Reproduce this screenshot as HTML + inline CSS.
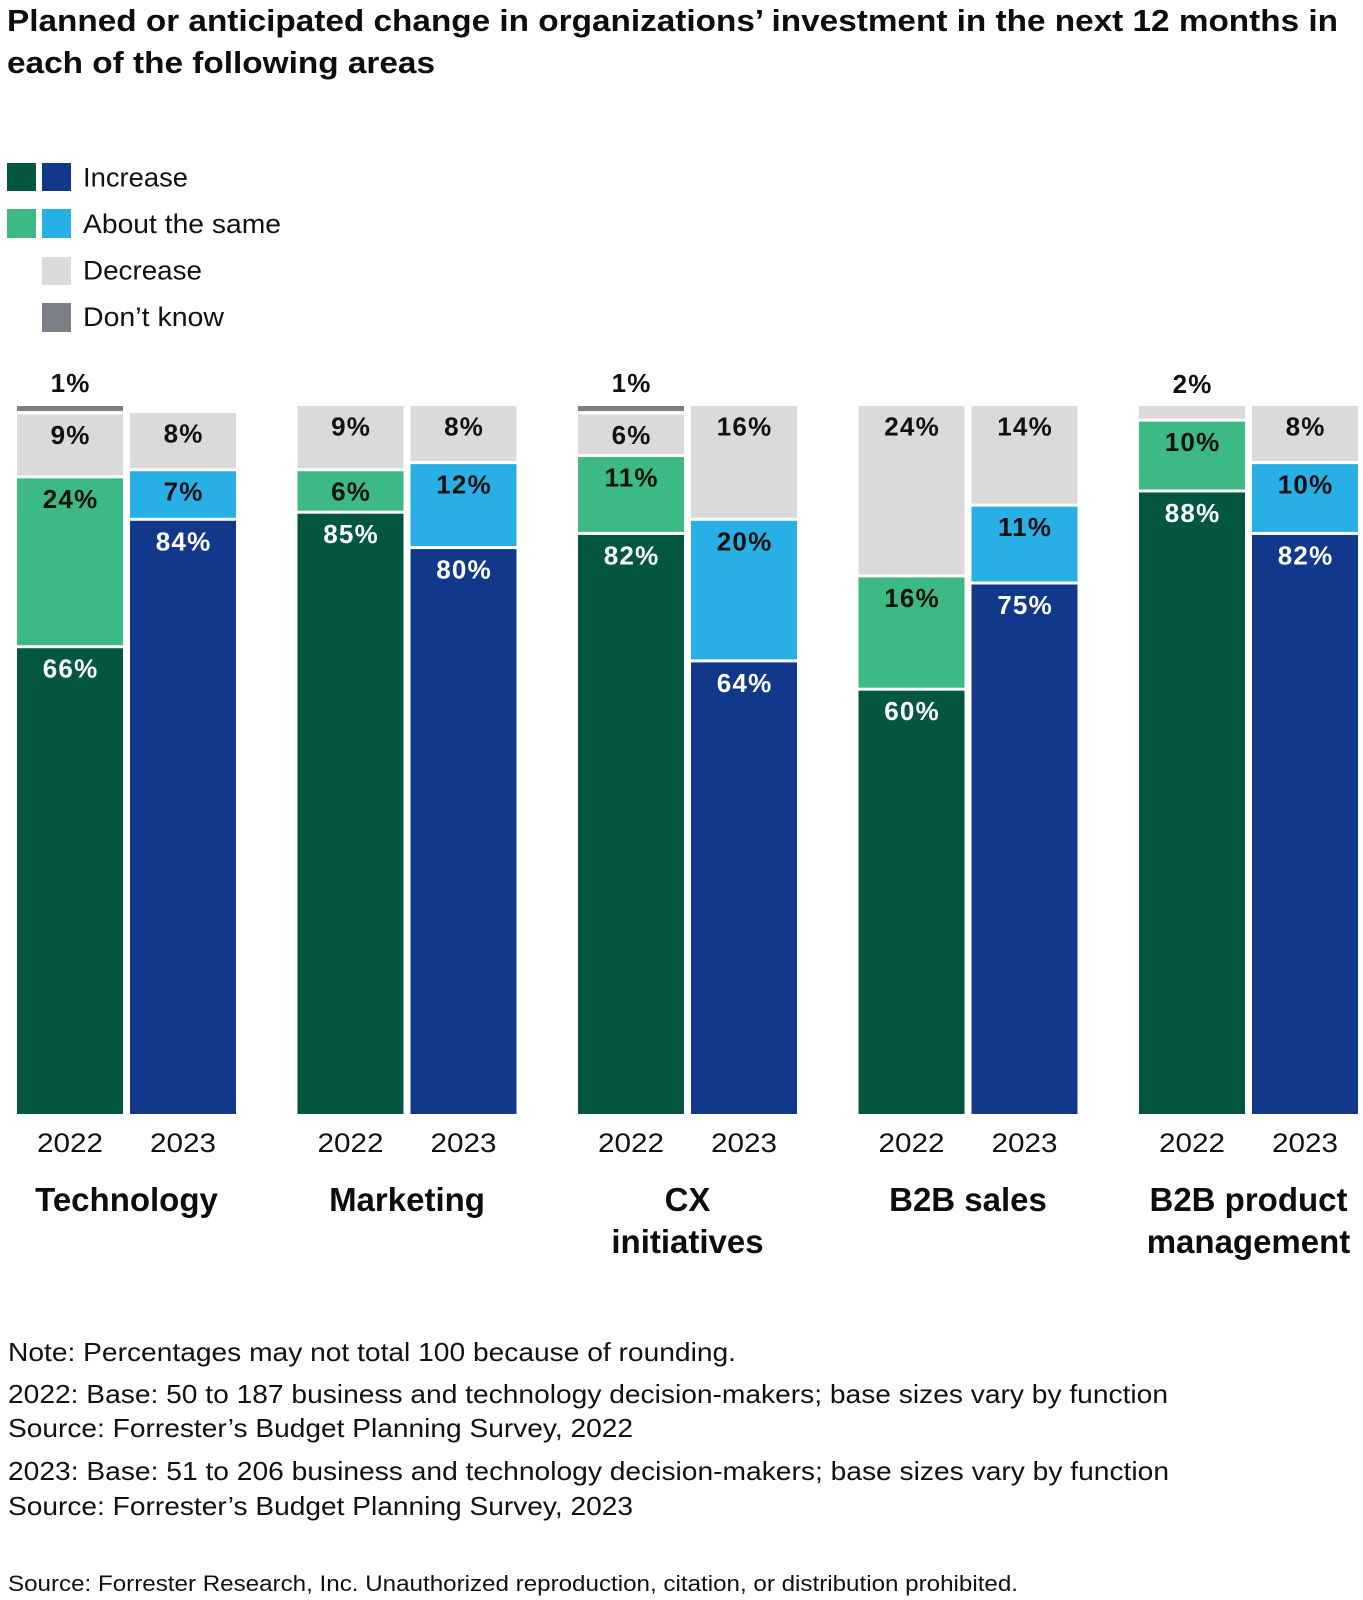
<!DOCTYPE html>
<html>
<head>
<meta charset="utf-8">
<style>
  html, body { margin: 0; padding: 0; background: #ffffff; }
  svg { display: block; }
  .t { font-family: "Liberation Sans", Arial, sans-serif; }
</style>
</head>
<body>
<svg width="1363" height="1600" viewBox="0 0 1363 1600" xmlns="http://www.w3.org/2000/svg">
  <rect x="0" y="0" width="1363" height="1600" fill="#ffffff"/>

  <!-- Title -->
  <g class="t" font-weight="bold" font-size="31" fill="#0d0d0d">
    <text x="7" y="31" textLength="1331" lengthAdjust="spacingAndGlyphs">Planned or anticipated change in organizations’ investment in the next 12 months in</text>
    <text x="7" y="73" textLength="428" lengthAdjust="spacingAndGlyphs">each of the following areas</text>
  </g>

  <!-- Legend -->
  <rect x="7" y="163" width="29" height="28" fill="#035640"/>
  <rect x="42" y="163" width="29" height="28" fill="#11388a"/>
  <rect x="7" y="209" width="29" height="29" fill="#3db984"/>
  <rect x="42" y="209" width="29" height="29" fill="#27afe6"/>
  <rect x="42" y="257" width="29" height="28" fill="#dadada"/>
  <rect x="42" y="303" width="29" height="29" fill="#7b7f86"/>
  <g class="t" font-size="27" fill="#111111">
    <text x="83" y="186.5" textLength="105" lengthAdjust="spacingAndGlyphs">Increase</text>
    <text x="83" y="233" textLength="198" lengthAdjust="spacingAndGlyphs">About the same</text>
    <text x="83" y="279.5" textLength="119" lengthAdjust="spacingAndGlyphs">Decrease</text>
    <text x="83" y="326" textLength="141" lengthAdjust="spacingAndGlyphs">Don’t know</text>
  </g>

  <!-- Bars -->
  <!-- Technology 2022 -->
  <rect x="17" y="648.22" width="106" height="465.78" fill="#035640"/>
  <rect x="17" y="478.3" width="106" height="166.92" fill="#3db984"/>
  <rect x="17" y="414.58" width="106" height="60.72" fill="#dadada"/>
  <rect x="17" y="406" width="106" height="5.08" fill="#7b7f86"/>
  <!-- Technology 2023 -->
  <rect x="130" y="520.78" width="106" height="593.22" fill="#11388a"/>
  <rect x="130" y="471.22" width="106" height="46.56" fill="#27afe6"/>
  <rect x="130" y="413.08" width="106" height="55.14" fill="#dadada"/>

  <!-- Marketing 2022 -->
  <rect x="297.5" y="513.7" width="106" height="600.3" fill="#035640"/>
  <rect x="297.5" y="471.22" width="106" height="39.48" fill="#3db984"/>
  <rect x="297.5" y="406" width="106" height="62.22" fill="#dadada"/>
  <!-- Marketing 2023 -->
  <rect x="410.5" y="549.1" width="106" height="564.9" fill="#11388a"/>
  <rect x="410.5" y="464.14" width="106" height="81.96" fill="#27afe6"/>
  <rect x="410.5" y="406" width="106" height="55.14" fill="#dadada"/>

  <!-- CX 2022 -->
  <rect x="578" y="534.94" width="106" height="579.06" fill="#035640"/>
  <rect x="578" y="457.06" width="106" height="74.88" fill="#3db984"/>
  <rect x="578" y="414.58" width="106" height="39.48" fill="#dadada"/>
  <rect x="578" y="406" width="106" height="5.08" fill="#7b7f86"/>
  <!-- CX 2023 -->
  <rect x="691" y="662.38" width="106" height="451.62" fill="#11388a"/>
  <rect x="691" y="520.78" width="106" height="138.6" fill="#27afe6"/>
  <rect x="691" y="406" width="106" height="111.78" fill="#dadada"/>

  <!-- B2B sales 2022 -->
  <rect x="858.5" y="690.7" width="106" height="423.3" fill="#035640"/>
  <rect x="858.5" y="577.42" width="106" height="110.28" fill="#3db984"/>
  <rect x="858.5" y="406" width="106" height="168.42" fill="#dadada"/>
  <!-- B2B sales 2023 -->
  <rect x="971.5" y="584.5" width="106" height="529.5" fill="#11388a"/>
  <rect x="971.5" y="506.62" width="106" height="74.88" fill="#27afe6"/>
  <rect x="971.5" y="406" width="106" height="97.62" fill="#dadada"/>

  <!-- B2B PM 2022 -->
  <rect x="1139" y="492.46" width="106" height="621.54" fill="#035640"/>
  <rect x="1139" y="421.66" width="106" height="67.8" fill="#3db984"/>
  <rect x="1139" y="406" width="106" height="12.66" fill="#dadada"/>
  <!-- B2B PM 2023 -->
  <rect x="1252" y="534.94" width="106" height="579.06" fill="#11388a"/>
  <rect x="1252" y="464.14" width="106" height="67.8" fill="#27afe6"/>
  <rect x="1252" y="406" width="106" height="55.14" fill="#dadada"/>

  <!-- Value labels -->
  <g class="t" font-weight="bold" font-size="26" letter-spacing="1.2" text-anchor="middle">
    <!-- above-bar labels -->
    <text x="70.6" y="392" fill="#111111">1%</text>
    <text x="631.6" y="392" fill="#111111">1%</text>
    <text x="1192.6" y="393" fill="#111111">2%</text>

    <!-- Technology -->
    <text x="70.6" y="444.1" fill="#111111">9%</text>
    <text x="70.6" y="507.8" fill="#111111">24%</text>
    <text x="70.6" y="677.7" fill="#ffffff">66%</text>
    <text x="183.6" y="442.6" fill="#111111">8%</text>
    <text x="183.6" y="500.7" fill="#111111">7%</text>
    <text x="183.6" y="550.3" fill="#ffffff">84%</text>

    <!-- Marketing -->
    <text x="351.1" y="435.5" fill="#111111">9%</text>
    <text x="351.1" y="500.7" fill="#111111">6%</text>
    <text x="351.1" y="543.2" fill="#ffffff">85%</text>
    <text x="464.1" y="435.5" fill="#111111">8%</text>
    <text x="464.1" y="493.6" fill="#111111">12%</text>
    <text x="464.1" y="578.6" fill="#ffffff">80%</text>

    <!-- CX -->
    <text x="631.6" y="444.1" fill="#111111">6%</text>
    <text x="631.6" y="486.6" fill="#111111">11%</text>
    <text x="631.6" y="564.4" fill="#ffffff">82%</text>
    <text x="744.6" y="435.5" fill="#111111">16%</text>
    <text x="744.6" y="550.3" fill="#111111">20%</text>
    <text x="744.6" y="691.9" fill="#ffffff">64%</text>

    <!-- B2B sales -->
    <text x="912.1" y="435.5" fill="#111111">24%</text>
    <text x="912.1" y="606.9" fill="#111111">16%</text>
    <text x="912.1" y="720.2" fill="#ffffff">60%</text>
    <text x="1025.1" y="435.5" fill="#111111">14%</text>
    <text x="1025.1" y="536.1" fill="#111111">11%</text>
    <text x="1025.1" y="614" fill="#ffffff">75%</text>

    <!-- B2B product management -->
    <text x="1192.6" y="451.2" fill="#111111">10%</text>
    <text x="1192.6" y="522" fill="#ffffff">88%</text>
    <text x="1305.6" y="435.5" fill="#111111">8%</text>
    <text x="1305.6" y="493.6" fill="#111111">10%</text>
    <text x="1305.6" y="564.4" fill="#ffffff">82%</text>
  </g>

  <!-- Year labels -->
  <g class="t" font-size="27" fill="#111111" text-anchor="middle">
    <text x="70" y="1152" textLength="66" lengthAdjust="spacingAndGlyphs">2022</text>
    <text x="183" y="1152" textLength="66" lengthAdjust="spacingAndGlyphs">2023</text>
    <text x="350.5" y="1152" textLength="66" lengthAdjust="spacingAndGlyphs">2022</text>
    <text x="463.5" y="1152" textLength="66" lengthAdjust="spacingAndGlyphs">2023</text>
    <text x="631" y="1152" textLength="66" lengthAdjust="spacingAndGlyphs">2022</text>
    <text x="744" y="1152" textLength="66" lengthAdjust="spacingAndGlyphs">2023</text>
    <text x="911.5" y="1152" textLength="66" lengthAdjust="spacingAndGlyphs">2022</text>
    <text x="1024.5" y="1152" textLength="66" lengthAdjust="spacingAndGlyphs">2023</text>
    <text x="1192" y="1152" textLength="66" lengthAdjust="spacingAndGlyphs">2022</text>
    <text x="1305" y="1152" textLength="66" lengthAdjust="spacingAndGlyphs">2023</text>
  </g>

  <!-- Category labels -->
  <g class="t" font-weight="bold" font-size="33" fill="#0d0d0d" text-anchor="middle">
    <text x="126.5" y="1211">Technology</text>
    <text x="407" y="1211">Marketing</text>
    <text x="687.5" y="1211">CX</text>
    <text x="687.5" y="1253">initiatives</text>
    <text x="968" y="1211">B2B sales</text>
    <text x="1248.5" y="1211">B2B product</text>
    <text x="1248.5" y="1253">management</text>
  </g>

  <!-- Notes -->
  <g class="t" font-size="26" fill="#111111">
    <text x="8" y="1361" textLength="728" lengthAdjust="spacingAndGlyphs">Note: Percentages may not total 100 because of rounding.</text>
    <text x="8" y="1403" textLength="1160" lengthAdjust="spacingAndGlyphs">2022: Base: 50 to 187 business and technology decision-makers; base sizes vary by function</text>
    <text x="8" y="1437" textLength="625" lengthAdjust="spacingAndGlyphs">Source: Forrester’s Budget Planning Survey, 2022</text>
    <text x="8" y="1480" textLength="1161" lengthAdjust="spacingAndGlyphs">2023: Base: 51 to 206 business and technology decision-makers; base sizes vary by function</text>
    <text x="8" y="1515" textLength="625" lengthAdjust="spacingAndGlyphs">Source: Forrester’s Budget Planning Survey, 2023</text>
  </g>
  <text class="t" x="8" y="1591" font-size="22" fill="#111111" textLength="1010" lengthAdjust="spacingAndGlyphs">Source: Forrester Research, Inc. Unauthorized reproduction, citation, or distribution prohibited.</text>
</svg>
</body>
</html>
